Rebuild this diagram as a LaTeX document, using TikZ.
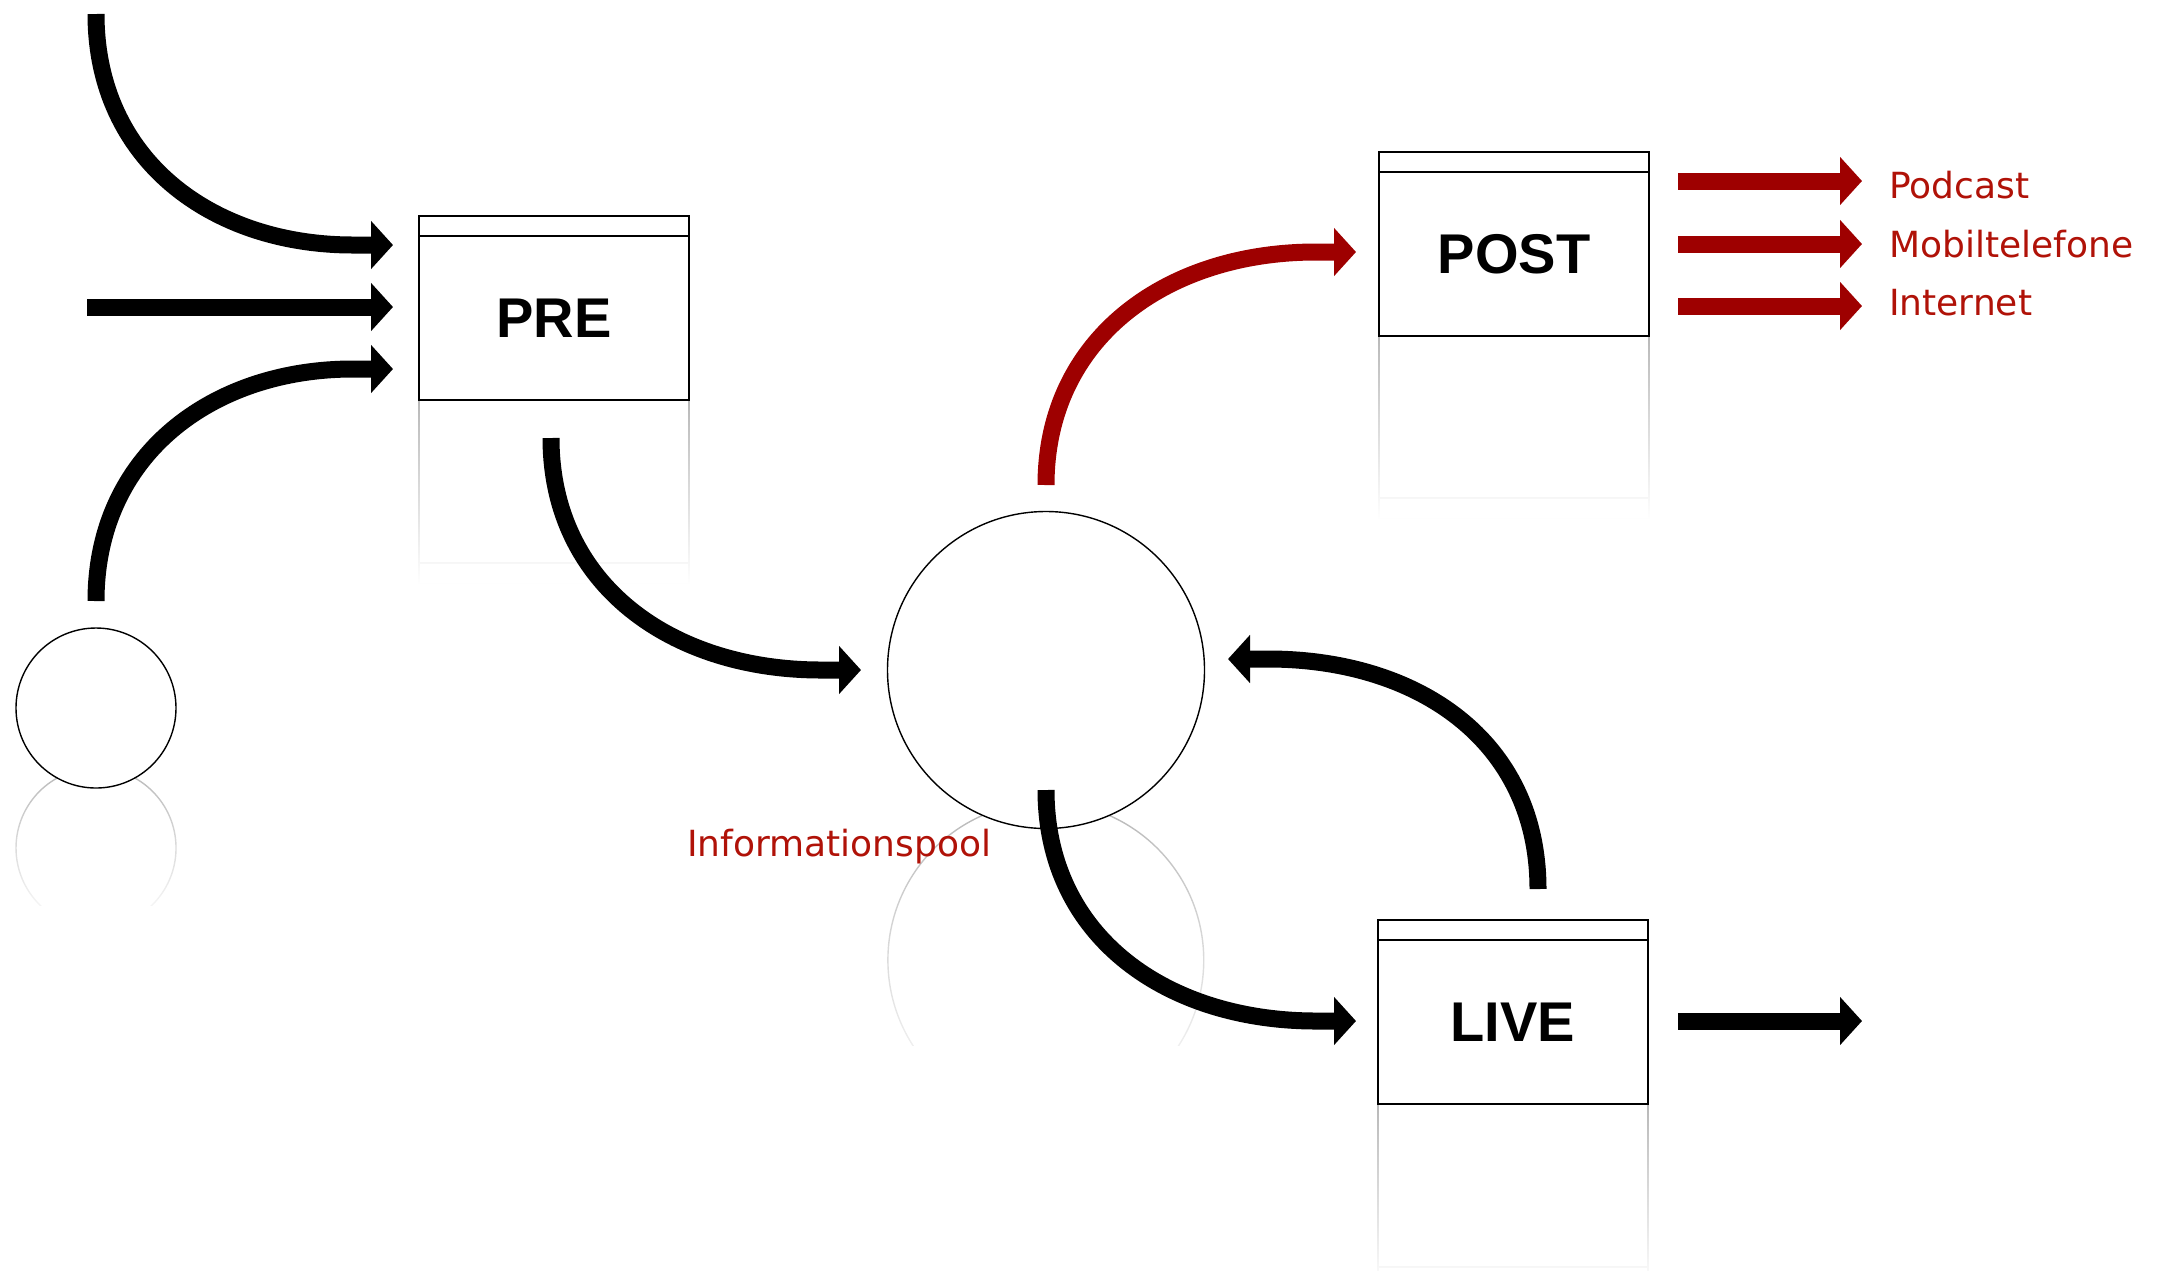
\documentclass[tikz,border=0pt]{standalone}
\usepackage{fontspec}
\setmainfont{DejaVu Sans}
\newfontfamily\boxfont{Liberation Sans}
\usepackage{tikz}
\usetikzlibrary{arrows.meta,calc,fadings}

\definecolor{flowred}{RGB}{158,0,0}
\definecolor{labelred}{RGB}{176,18,8}
\tikzfading[name=mirror fade, top color=transparent!0, bottom color=transparent!100]

\tikzset{
	flow/.style={line width=17pt,-{Triangle[length=22pt,width=47pt]}},
	redflow/.style={flow,draw=flowred},
	procbox/.style={draw,line width=1.6pt,fill=white,minimum width=270pt,minimum height=184pt,inner sep=0pt},
	boxlabel/.style={font=\boxfont\bfseries\fontsize{56}{60}\selectfont,inner sep=0pt},
	pool/.style={circle,draw,line width=1.4pt,fill=white,inner sep=0pt},
	medium/.style={font=\fontsize{36}{40}\selectfont,text=labelred,anchor=base west,inner sep=0pt},
	mirror/.style={draw=black!28,line width=1.4pt,path fading=mirror fade},
}

\begin{document}
\begin{tikzpicture}[x=1pt,y=-1pt]
	\useasboundingbox (0,0) rectangle (2161,1270);
	% mirror images under the boxes and circles
	\draw[mirror] (419,400) -- (419,584) -- (689,584) -- (689,400) (419,563) -- (689,563);
	\draw[mirror] (1379,335) -- (1379,519) -- (1649,519) -- (1649,335) (1379,498) -- (1649,498);
	\draw[mirror] (1378,1104) -- (1378,1288) -- (1648,1288) -- (1648,1104) (1378,1267) -- (1648,1267);
	\begin{scope}
		\clip (0,760) rectangle (200,905);
		\draw[mirror] (96,848) circle[radius=80];
	\end{scope}
	\begin{scope}
		\clip (850,790) rectangle (1250,1045);
		\draw[mirror] (1046,960) circle[radius=158];
	\end{scope}
	% boxes
	\node[procbox] (pre) at (554,308) {};
	\node[procbox] (post) at (1514,244) {};
	\node[procbox] (live) at (1513,1012) {};
	\foreach \b in {pre,post,live}
		\draw[line width=1.6pt] ([yshift=-21pt]\b.north west) -- ([yshift=-21pt]\b.north east);
	\node[boxlabel] (pre label) at ([yshift=-10.5pt]pre.center) {PRE};
	\node[boxlabel] (post label) at ([yshift=-10.5pt]post.center) {POST};
	\node[boxlabel] (live label) at ([yshift=-10.5pt]live.center) {LIVE};
	% circles
	\node[pool,minimum size=160pt] (src) at (96,708) {};
	\node[pool,minimum size=317pt] (pool) at (1046,670) {};
	\node[medium] (pool name) at (687,856) {Informationspool};
	% free ends of the arrows
	\coordinate (in top) at (96,14);
	\coordinate (in mid) at (87,307);
	\coordinate (in src) at (96,601);
	\coordinate (pre in1) at (393,245);
	\coordinate (pre in2) at (393,307);
	\coordinate (pre in3) at (393,369);
	\coordinate (pre out) at (551,438);
	\coordinate (pool in) at (861,670);
	\coordinate (pool up) at (1046,485);
	\coordinate (pool down) at (1046,790);
	\coordinate (post in) at (1356,252);
	\coordinate (live in) at (1356,1021);
	\coordinate (live up) at (1538,889);
	\coordinate (pool back) at (1228,659);
	% into PRE
	\draw[flow] (in top) .. controls (96,160) and (212,245) .. (353,245) -- (pre in1);
	\draw[flow] (in mid) -- (pre in2);
	\draw[flow] (in src) .. controls (96,455) and (212,369) .. (353,369) -- (pre in3);
	% PRE to the pool
	\draw[flow] (pre out) .. controls (551,585) and (672,670) .. (821,670) -- (pool in);
	% pool to POST and LIVE
	\draw[redflow] (pool up) .. controls (1046,338) and (1167,252) .. (1316,252) -- (post in);
	\draw[flow] (pool down) .. controls (1046,937) and (1167,1021) .. (1316,1021) -- (live in);
	\draw[flow] (live up) .. controls (1538,740) and (1417,659) .. (1268,659) -- (pool back);
	% outputs
	\coordinate (post out1) at (1678,181);
	\coordinate (post out2) at (1678,244);
	\coordinate (post out3) at (1678,306);
	\coordinate (live out) at (1678,1021);
	\draw[redflow] (post out1) -- ++(184,0) coordinate (podcast);
	\draw[redflow] (post out2) -- ++(184,0) coordinate (mobile);
	\draw[redflow] (post out3) -- ++(184,0) coordinate (web);
	\draw[flow] (live out) -- ++(184,0) coordinate (live end);
	\node[medium] (podcast label) at (1889,198) {Podcast};
	\node[medium] (mobile label) at (1889,257) {Mobiltelefone};
	\node[medium] (web label) at (1889,315) {Internet};
\end{tikzpicture}
\end{document}
